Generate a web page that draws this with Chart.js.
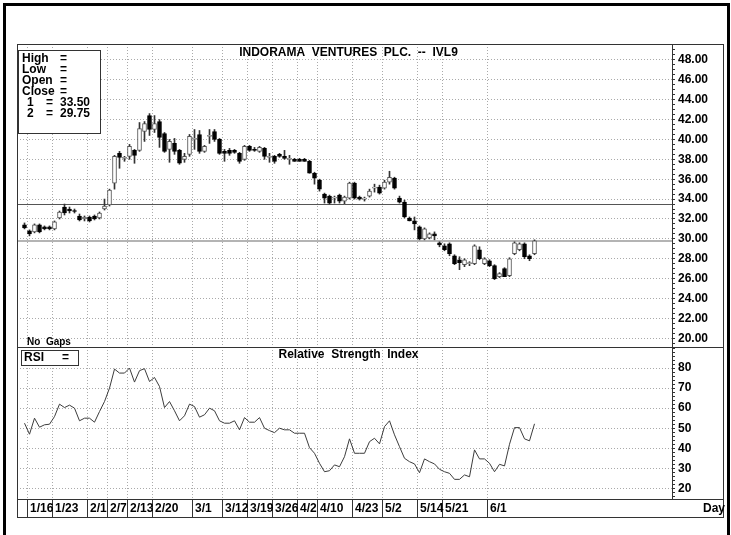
<!DOCTYPE html>
<html>
<head>
<meta charset="utf-8">
<script src="https://cdn.jsdelivr.net/npm/chart.js@4.4.0/dist/chart.umd.min.js"></script>
<style>
  body { margin: 0; background: #fff; }
  #wrap { position: relative; width: 731px; height: 535px; overflow: hidden; }
  #frame { position: absolute; left: 3px; top: 3px; width: 721px; height: 560px; border: 3px solid #000; }
  canvas { position: absolute; left: 0; top: 0; }
</style>
</head>
<body>
<div id="wrap">
  <div id="frame"></div>
  <canvas id="chart" width="731" height="535"></canvas>
</div>
<script>
// date labels on the day axis and the candle they sit on (0 = first candle, 1/13)
const tickLabels = ['1/16', '1/23', '2/1', '2/7', '2/13', '2/20', '3/1', '3/12', '3/19', '3/26', '4/2', '4/10', '4/23', '5/2', '5/14', '5/21', '6/1'];
const tickIndex = [1, 6, 13, 17, 21, 26, 34, 40, 45, 50, 55, 59, 66, 72, 79, 84, 93];

// daily prices
const open = [31.4, 30.8, 30.7, 31.4, 31.2, 31.2, 31.0, 32.1, 33.2, 33.0,
  32.8, 32.3, 32.0, 32.2, 32.3, 32.1, 33.0, 33.4, 35.6, 38.6,
  38.1, 38.3, 38.9, 38.9, 40.8, 42.4, 41.0, 41.8, 40.6, 39.0,
  39.6, 38.9, 38.0, 38.5, 40.0, 40.5, 38.8, 40.3, 40.8, 40.0,
  38.8, 38.9, 38.9, 38.6, 38.0, 39.3, 39.0, 38.8, 39.1, 38.2,
  38.3, 38.5, 38.3, 38.0, 38.0, 38.0, 38.0, 37.8, 36.6, 35.9,
  34.5, 34.3, 34.1, 34.4, 33.8, 34.1, 35.6, 34.2, 34.0, 34.3,
  35.1, 35.2, 35.1, 35.7, 36.1, 34.1, 33.7, 32.1, 31.8, 31.2,
  30.0, 30.1, 30.5, 29.6, 29.3, 29.5, 28.3, 27.9, 27.4, 27.5,
  27.5, 28.9, 27.5, 27.8, 27.3, 26.2, 27.0, 26.3, 28.5, 28.9,
  29.5, 28.3, 28.5];
const high = [31.6, 30.9, 31.5, 31.5, 31.3, 31.3, 31.8, 32.8, 33.5, 33.2,
  33.0, 32.5, 32.3, 32.3, 32.4, 32.7, 34.0, 35.0, 38.4, 38.8,
  38.3, 39.5, 39.0, 41.7, 41.8, 42.6, 42.4, 42.0, 40.7, 40.0,
  40.1, 39.0, 38.6, 40.5, 41.0, 40.9, 39.4, 41.0, 41.0, 40.1,
  39.0, 39.1, 39.0, 38.7, 39.4, 39.4, 39.2, 39.3, 39.2, 38.6,
  38.4, 38.6, 38.9, 38.4, 38.1, 38.1, 38.1, 37.9, 36.7, 36.0,
  34.6, 34.4, 34.3, 34.5, 34.3, 35.7, 35.7, 34.3, 34.2, 35.0,
  35.5, 35.4, 35.9, 36.8, 36.2, 34.3, 33.9, 32.2, 32.2, 31.3,
  31.1, 30.6, 30.7, 29.7, 29.5, 29.6, 28.4, 28.2, 28.0, 27.7,
  29.4, 29.2, 28.1, 27.9, 27.4, 26.6, 27.1, 28.1, 29.7, 29.6,
  29.6, 28.4, 29.9];
const low = [31.0, 30.3, 30.6, 30.6, 30.9, 30.9, 30.9, 32.0, 32.4, 32.6,
  32.6, 31.8, 31.8, 31.7, 31.9, 32.0, 32.9, 33.3, 35.0, 37.1,
  37.8, 38.0, 37.6, 38.8, 39.8, 40.4, 40.7, 39.2, 38.7, 37.7,
  38.5, 37.5, 37.7, 38.3, 39.0, 38.6, 38.7, 39.6, 39.8, 38.5,
  37.8, 38.4, 38.6, 37.6, 37.9, 38.8, 38.8, 38.7, 38.0, 37.7,
  37.6, 38.2, 38.0, 37.5, 37.8, 37.8, 37.8, 36.6, 35.5, 34.8,
  33.6, 33.5, 33.6, 33.6, 33.5, 34.0, 34.0, 33.9, 33.8, 34.2,
  34.7, 34.5, 35.0, 35.5, 35.0, 33.6, 32.1, 31.8, 30.9, 29.9,
  29.9, 30.0, 29.9, 29.2, 28.8, 28.3, 27.4, 26.9, 27.2, 27.3,
  27.4, 27.9, 27.4, 27.2, 25.9, 26.1, 26.2, 26.2, 28.4, 28.8,
  28.0, 27.8, 28.4];
const close = [31.1, 30.5, 31.4, 30.7, 31.0, 31.0, 31.7, 32.7, 32.6, 32.8,
  32.75, 31.9, 32.2, 31.8, 32.0, 32.6, 33.3, 34.9, 38.3, 38.2,
  38.1, 39.3, 38.4, 41.1, 41.6, 41.0, 41.6, 40.2, 38.8, 39.8,
  38.8, 37.6, 38.3, 40.3, 40.1, 38.8, 39.3, 40.3, 40.0, 38.6,
  38.6, 38.6, 38.7, 37.8, 39.3, 38.9, 38.9, 39.2, 38.3, 38.2,
  37.8, 38.3, 38.1, 38.0, 37.8, 37.8, 37.8, 36.6, 36.1, 35.0,
  34.1, 33.6, 34.1, 33.8, 34.2, 35.6, 34.1, 34.0, 34.0, 34.8,
  35.1, 34.6, 35.7, 36.2, 35.1, 33.7, 32.2, 31.8, 31.5, 30.0,
  31.0, 30.5, 30.3, 29.4, 28.9, 28.5, 27.5, 27.6, 27.9, 27.5,
  29.3, 28.0, 28.0, 27.3, 26.0, 26.5, 26.2, 28.0, 29.6, 29.5,
  28.2, 28.0, 29.8];

// relative strength index, one value per candle
const rsi = [52.5, 47, 55, 50.5, 51.7, 52, 55.8, 62, 60.3, 61.5,
  60, 53.7, 55, 55, 53, 58.3, 63.3, 70, 79.5, 77.5,
  77.5, 80, 73, 78.7, 79.7, 73.3, 75.3, 70.8, 60.3, 63.3,
  58.7, 53.7, 56.2, 62, 60.8, 55.5, 56.7, 60, 58.7, 53.7,
  52.5, 52.5, 53.7, 49.2, 55.3, 53, 53, 55.3, 50, 48.8,
  47.8, 50, 49.2, 49.2, 47.5, 47.5, 47.5, 40.3, 37.5, 32.5,
  28.3, 28.8, 31.7, 30.8, 35.8, 44.7, 37.5, 37.5, 37.5, 43.3,
  45, 42.2, 50.8, 53.7, 46.7, 40.8, 35, 33.3, 32.2, 27.8,
  34.7, 33.3, 32.2, 29.5, 28.3, 27.5, 24.5, 24.5, 26.7, 25.8,
  39.2, 34.7, 34.7, 32.5, 28.3, 32, 31.2, 42, 50.3, 50.3,
  44.7, 43.7, 52.2];

// the two horizontal reference lines
const levels = [33.50, 29.75];

const emptyDays = 27; // free room right of the last candle

const font = size => `bold ${size}px "Liberation Sans", Arial, sans-serif`;
const tickFont = { family: '"Liberation Sans", Arial, sans-serif', size: 12, weight: 'bold' };

// one empty slot before the first candle, then the candles, then free room
const labels = [''];
open.forEach((o, k) => {
  const t = tickIndex.indexOf(k);
  labels.push(t >= 0 ? tickLabels[t] : '');
});
for (let i = 0; i < emptyDays; i++) labels.push('');
const pad = arr => [null, ...arr, ...Array(emptyDays).fill(null)];

const bodies = open.map((o, k) => [o, close[k]]);
const wicks = low.map((l, k) => [l, high[k]]);
const isUp = i => close[i - 1] >= open[i - 1];
const isTick = i => tickIndex.includes(i - 1);
const even = (v, step) => Math.abs(v / step - Math.round(v / step)) < 1e-6;

const decor = {
  id: 'decor',
  beforeDatasetsDraw(chart) {
    const { ctx, chartArea: a, scales: { y } } = chart;
    ctx.save();
    ctx.strokeStyle = '#555';
    ctx.lineWidth = 1;
    let py = Math.round(y.getPixelForValue(levels[0])) + 0.5;
    ctx.beginPath(); ctx.moveTo(a.left, py); ctx.lineTo(a.right, py); ctx.stroke();
    ctx.strokeStyle = '#b4b4b4';
    ctx.lineWidth = 2;
    py = Math.round(y.getPixelForValue(levels[1]));
    ctx.beginPath(); ctx.moveTo(a.left, py); ctx.lineTo(a.right, py); ctx.stroke();
    ctx.restore();
  },
  afterDraw(chart) {
    const { ctx, chartArea: a, scales: { x, y } } = chart;
    const right = y.right;
    const bottom = x.bottom;
    const line = (x1, y1, x2, y2) => { ctx.beginPath(); ctx.moveTo(x1, y1); ctx.lineTo(x2, y2); ctx.stroke(); };
    ctx.save();
    ctx.strokeStyle = '#333';
    ctx.lineWidth = 1;
    ctx.strokeRect(a.left + 0.5, a.top + 0.5, right - a.left, bottom - a.top);
    line(a.right + 0.5, a.top, a.right + 0.5, a.bottom);
    line(a.left, y.bottom + 0.5, right, y.bottom + 0.5);
    line(a.left, a.bottom + 0.5, right, a.bottom + 0.5);

    ctx.fillStyle = '#000';
    ctx.textBaseline = 'alphabetic';
    ctx.font = font(12);
    ctx.textAlign = 'center';
    const mid = (a.left + a.right) / 2 + 4;
    ctx.fillText('INDORAMA  VENTURES  PLC.  --  IVL9', mid, a.top + 12);
    ctx.fillText('Relative  Strength  Index', mid, y.bottom + 11);

    // price info box
    ctx.textAlign = 'left';
    ctx.fillStyle = '#fff';
    ctx.fillRect(a.left + 1, a.top + 6, 82, 83);
    ctx.strokeRect(a.left + 1.5, a.top + 6.5, 82, 83);
    ctx.fillStyle = '#000';
    const rows = ['High', 'Low', 'Open', 'Close'];
    rows.forEach((r, i) => {
      ctx.fillText(r, a.left + 5, a.top + 17.5 + i * 11);
      ctx.fillText('=', a.left + 43, a.top + 17.5 + i * 11);
    });
    levels.forEach((v, i) => {
      const by = a.top + 61.5 + i * 11;
      ctx.fillText(String(i + 1), a.left + 10, by);
      ctx.fillText('=', a.left + 29, by);
      ctx.fillText(v.toFixed(2), a.left + 43, by);
    });

    // RSI box
    ctx.fillStyle = '#fff';
    ctx.fillRect(a.left + 4, y.bottom + 3, 57, 15);
    ctx.strokeRect(a.left + 4.5, y.bottom + 3.5, 57, 15);
    ctx.fillStyle = '#000';
    ctx.fillText('RSI', a.left + 7, y.bottom + 14);
    ctx.fillText('=', a.left + 45, y.bottom + 14);

    ctx.font = font(10);
    ctx.fillText('No  Gaps', a.left + 10, y.bottom - 2);

    ctx.font = font(12);
    ctx.fillText('Day', right - 20, bottom - 5);
    ctx.restore();
  }
};

new Chart(document.getElementById('chart'), {
  type: 'bar',
  data: {
    labels: labels,
    datasets: [
      {
        label: 'Body',
        data: pad(bodies),
        yAxisID: 'y',
        grouped: false,
        barThickness: 4,
        minBarLength: 1,
        borderWidth: 1,
        borderSkipped: false,
        backgroundColor: c => isUp(c.dataIndex) ? '#fff' : '#000',
        borderColor: c => isUp(c.dataIndex) ? '#555' : '#000',
        order: 1
      },
      {
        label: 'Wick',
        data: pad(wicks),
        yAxisID: 'y',
        grouped: false,
        barThickness: 1,
        borderWidth: 0,
        backgroundColor: '#333',
        order: 2
      },
      {
        type: 'line',
        label: 'RSI',
        data: pad(rsi),
        yAxisID: 'y2',
        borderColor: '#3c3c3c',
        borderWidth: 1,
        pointRadius: 0,
        tension: 0,
        order: 0
      }
    ]
  },
  options: {
    responsive: false,
    animation: false,
    layout: { padding: { left: 17, top: 44, right: 8, bottom: 18 } },
    plugins: {
      legend: { display: false },
      tooltip: { enabled: false }
    },
    scales: {
      x: {
        type: 'category',
        offset: true,
        grid: {
          offset: true,
          color: c => isTick(c.index) ? '#aaa' : 'transparent',
          tickColor: c => isTick(c.index) ? '#333' : 'transparent',
          tickLength: 18
        },
        border: { display: false, dash: [1, 2] },
        ticks: {
          autoSkip: false,
          maxRotation: 0,
          minRotation: 0,
          align: 'start',
          padding: -16,
          labelOffset: 0.5,
          color: '#000',
          font: tickFont,
          callback: (v, i) => labels[i]
        },
        afterFit: s => { s.height = 18; }
      },
      y: {
        position: 'right',
        stack: 'panels',
        stackWeight: 303,
        min: 19.12,
        max: 49.6,
        grid: {
          color: c => c.tick && even(c.tick.value, 2) ? '#aaa' : 'transparent',
          tickColor: '#333',
          tickLength: 3
        },
        border: { display: false, dash: [1, 2] },
        ticks: {
          stepSize: 0.5,
          includeBounds: false,
          autoSkip: false,
          padding: 3,
          color: '#000',
          font: tickFont,
          callback: v => even(v, 2) ? v.toFixed(2) : ''
        },
        afterFit: s => { s.width = 51; }
      },
      y2: {
        position: 'right',
        stack: 'panels',
        stackWeight: 152,
        min: 14.7,
        max: 90.5,
        grid: {
          color: c => c.tick && even(c.tick.value, 10) && c.tick.value < 90 ? '#aaa' : 'transparent',
          tickColor: '#333',
          tickLength: 3
        },
        border: { display: false, dash: [1, 2] },
        ticks: {
          stepSize: 2,
          includeBounds: false,
          autoSkip: false,
          padding: 3,
          color: '#000',
          font: tickFont,
          callback: v => even(v, 10) && v < 90 ? String(v) : ''
        },
        afterFit: s => { s.width = 51; }
      }
    }
  },
  plugins: [decor]
});
</script>
</body>
</html>
